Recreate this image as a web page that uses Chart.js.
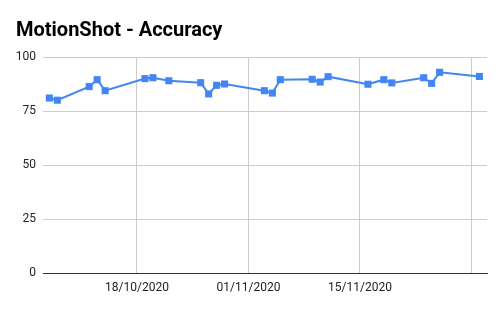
<!DOCTYPE html>
<html>
<head>
<meta charset="utf-8">
<script src="https://cdn.jsdelivr.net/npm/chart.js@4.4.0/dist/chart.umd.min.js"></script>
<style>
  html, body { margin: 0; padding: 0; background: #fff; }
</style>
</head>
<body>
<canvas id="accuracyChart" width="502" height="310"></canvas>
<script>
// data
const dates = [
  "2020-10-07", "2020-10-08", "2020-10-12", "2020-10-13", "2020-10-14",
  "2020-10-19", "2020-10-20", "2020-10-22", "2020-10-26", "2020-10-27",
  "2020-10-28", "2020-10-29", "2020-11-03", "2020-11-04", "2020-11-05",
  "2020-11-09", "2020-11-10", "2020-11-11", "2020-11-16", "2020-11-18",
  "2020-11-19", "2020-11-23", "2020-11-24", "2020-11-25", "2020-11-30",
];
const accuracy = [
  81.0, 80.0, 86.3, 89.5, 84.4,
  90.0, 90.4, 89.0, 88.1, 82.9,
  86.9, 87.5, 84.4, 83.3, 89.5,
  89.7, 88.4, 90.9, 87.4, 89.5,
  88.0, 90.4, 87.8, 92.9, 91.0,
];
const xTickDates = ["2020-10-18", "2020-11-01", "2020-11-15", "2020-11-29"];
const xTickLabels = ["18/10/2020", "01/11/2020", "15/11/2020", ""];
const yTicks = [0, 25, 50, 75, 100];

const toDay = (s) => {
  const [y, m, d] = s.split("-").map(Number);
  return Date.UTC(y, m - 1, d) / 86400000;
};

const points = dates.map((d, i) => ({ x: toDay(d), y: accuracy[i] }));
const tickDays = xTickDates.map(toDay);
const firstDay = toDay(dates[0]);
const lastDay = toDay(dates[dates.length - 1]);

Chart.defaults.font.family = "Roboto, 'Noto Sans', sans-serif";
Chart.defaults.color = "#222";

new Chart(document.getElementById("accuracyChart"), {
  type: "line",
  data: {
    datasets: [
      {
        label: "Accuracy",
        data: points,
        borderColor: "#4285f4",
        backgroundColor: "#4285f4",
        borderWidth: 2,
        tension: 0,
        pointStyle: "rect",
        pointRadius: 5,
        pointHoverRadius: 5,
        pointBorderWidth: 0,
      },
    ],
  },
  options: {
    responsive: false,
    animation: false,
    devicePixelRatio: 1,
    layout: { padding: { left: 16, right: 15, top: 0, bottom: 0 } },
    plugins: {
      legend: { display: false },
      tooltip: { enabled: false },
      title: {
        display: true,
        text: "MotionShot - Accuracy",
        align: "start",
        color: "#000",
        font: { size: 20, weight: "bold" },
        padding: { top: 19, bottom: 14 },
      },
    },
    scales: {
      x: {
        type: "linear",
        min: firstDay - 0.8,
        max: lastDay + 0.95,
        afterBuildTicks: (scale) => {
          scale.ticks = tickDays.map((v) => ({ value: v }));
        },
        afterFit: (scale) => {
          scale.height = 37;
        },
        ticks: {
          autoSkip: false,
          maxRotation: 0,
          padding: 8,
          font: { size: 12 },
          callback: (value) => {
            const i = tickDays.indexOf(value);
            return i >= 0 ? xTickLabels[i] : "";
          },
        },
        grid: { color: "#cccccc", drawTicks: false },
        border: { display: true, color: "#333", width: 1 },
      },
      y: {
        min: 0,
        max: 100,
        afterBuildTicks: (scale) => {
          scale.ticks = yTicks.map((v) => ({ value: v }));
        },
        afterFit: (scale) => {
          scale.width = 27;
        },
        ticks: { padding: 7, font: { size: 12 } },
        grid: { color: "#cccccc", drawTicks: false },
        border: { display: false },
      },
    },
  },
});
</script>
</body>
</html>
